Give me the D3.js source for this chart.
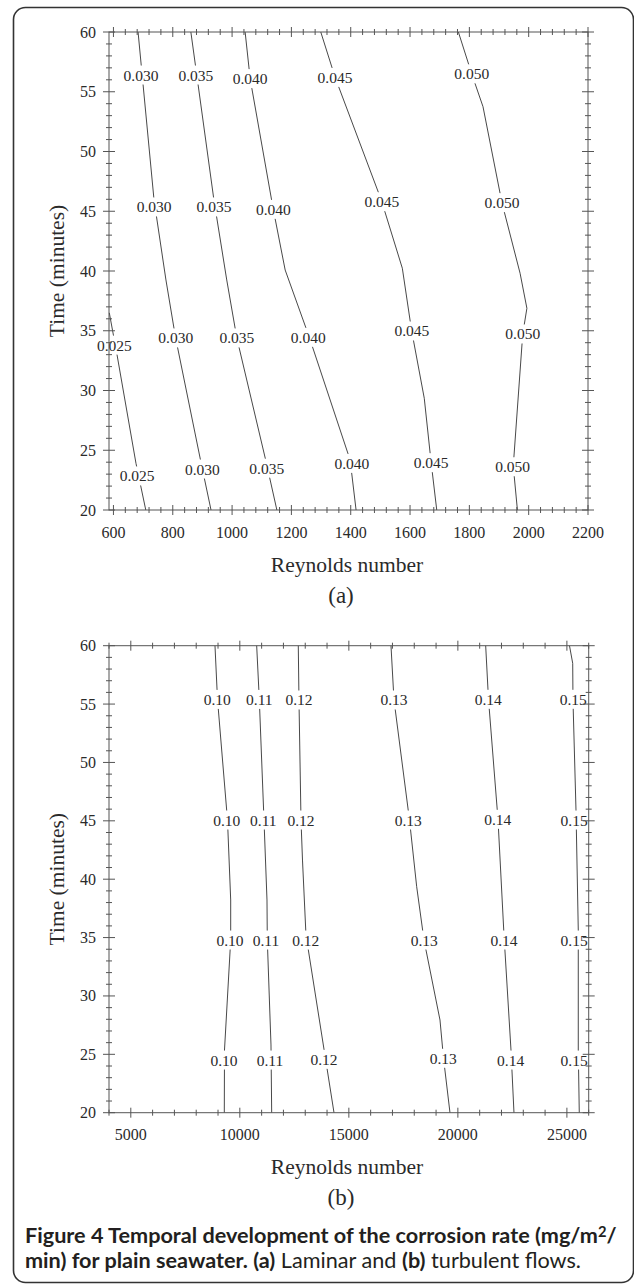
<!DOCTYPE html>
<html><head><meta charset="utf-8">
<script src="https://cdn.jsdelivr.net/npm/d3@7"></script>
<style>html,body{margin:0;padding:0;background:#fff;} svg{display:block;}</style>
</head><body>
<svg id="c" width="634" height="1284"></svg>
<script>
// ---------- (a) laminar ----------
const laminarXDomain = [585, 2200];
const laminarXTicks = [600, 800, 1000, 1200, 1400, 1600, 1800, 2000, 2200];
const timeDomain = [20, 60];
const timeTicks = [20, 25, 30, 35, 40, 45, 50, 55, 60];
const laminarLevels = ["0.025", "0.030", "0.035", "0.040", "0.045", "0.050"];
const laminarLines = [
  [[586, 36.5], [612, 33.0], [676, 23.9], [709, 20]],
  [[683, 60], [737, 45.9], [777, 39.25], [809, 34.48], [895, 24.0], [929, 20]],
  [[861, 60], [939, 45.9], [982, 39.25], [1016, 34.39], [1115, 24.0], [1151, 20]],
  [[1044, 60], [1061, 56.07], [1138, 45.27], [1179, 40.08], [1260, 34.48], [1398, 24.18], [1418, 20]],
  [[1299, 60], [1347, 56.23], [1503, 45.94], [1574, 40.23], [1605, 35.06], [1648, 29.35], [1671, 24.0], [1690, 20]],
  [[1763, 60], [1808, 56.49], [1846, 53.75], [1910, 45.69], [1971, 39.81], [1994, 36.88], [1980, 34.73], [1948, 23.68], [1962, 20]]
];
const laminarLabels = [
  [[603, 33.8], [680, 22.85]],
  [[693, 56.4], [737, 45.36], [810, 34.4], [900, 23.43]],
  [[878, 56.4], [939, 45.36], [1016, 34.4], [1117, 23.5]],
  [[1061, 56.1], [1139, 45.16], [1257, 34.45], [1404, 23.9]],
  [[1347, 56.2], [1505, 45.8], [1606, 34.98], [1671, 23.96]],
  [[1808, 56.5], [1910, 45.72], [1980, 34.73], [1946, 23.62]]
];

// ---------- (b) turbulent ----------
const turbulentXDomain = [4000, 26000];
const turbulentXTicks = [5000, 10000, 15000, 20000, 25000];
const turbulentLevels = ["0.10", "0.11", "0.12", "0.13", "0.14", "0.15"];
const turbulentLines = [
  [[8861, 60], [8976, 55.41], [9434, 45.07], [9581, 38.22], [9581, 34.79], [9297, 25.37], [9288, 20]],
  [[10773, 60], [10893, 55.41], [11108, 45.07], [11246, 38.22], [11260, 34.79], [11429, 25.8], [11461, 20]],
  [[12681, 60], [12713, 55.35], [12805, 45.07], [12874, 41.64], [13034, 35.22], [14319, 20]],
  [[16933, 60], [17070, 55.35], [17781, 45.07], [18111, 39.36], [18446, 34.79], [19180, 27.94], [19340, 24.69], [19638, 20]],
  [[21275, 60], [21404, 55.41], [21840, 45.13], [22115, 35.22], [22436, 25.37], [22573, 20]],
  [[25119, 60], [25267, 58.49], [25279, 55.35], [25417, 45.93], [25522, 35.65], [25522, 25.37], [25568, 20]]
];
const turbulentLabels = [
  [[8966, 55.4], [9398, 45.07], [9549, 34.79], [9274, 24.51]],
  [[10893, 55.4], [11076, 45.07], [11200, 34.79], [11383, 24.51]],
  [[12713, 55.35], [12805, 45.07], [13021, 34.79], [13860, 24.57]],
  [[17070, 55.35], [17726, 45.07], [18460, 34.79], [19331, 24.66]],
  [[21395, 55.41], [21826, 45.13], [22115, 34.79], [22422, 24.51]],
  [[25290, 55.41], [25330, 45.07], [25330, 34.79], [25330, 24.51]]
];

const xTitle = "Reynolds number";
const yTitle = "Time (minutes)";

const svg = d3.select("#c");
const SERIF = "'Liberation Serif','Times New Roman',serif";
const TXT = "#2a2a2a";

// outer frame
svg.append("rect").attr("x", 13.5).attr("y", 7.5).attr("width", 620).attr("height", 1275)
  .attr("rx", 12).attr("fill", "none").attr("stroke", "#333").attr("stroke-width", 1.6);

function panel(o) {
  const x = d3.scaleLinear().domain(o.xDomain).range([o.left, o.right]);
  const y = d3.scaleLinear().domain(timeDomain).range([o.bottom, o.top]);
  const g = svg.append("g");
  const line = d3.line().x(d => x(d[0])).y(d => y(d[1]));

  // contour lines
  g.selectAll("path.c").data(o.lines).join("path")
    .attr("d", line).attr("fill", "none").attr("stroke", "#333").attr("stroke-width", 0.9);

  // labels with gap
  o.labels.forEach((labs, i) => {
    labs.forEach(p => {
      const lg = g.append("g");
      const bg = lg.append("rect").attr("fill", "#fff");
      const t = lg.append("text").attr("x", x(p[0])).attr("y", y(p[1]))
        .attr("text-anchor", "middle").attr("dominant-baseline", "central")
        .attr("font-family", SERIF).attr("font-size", 15.5).attr("fill", TXT)
        .text(o.levels[i]);
      const bb = t.node().getBBox();
      bg.attr("x", bb.x - 1).attr("width", bb.width + 2)
        .attr("y", y(p[1]) - 9.5).attr("height", 19);
    });
  });

  // axes box
  const ax = svg.append("g").attr("stroke", "#555").attr("stroke-width", 1);
  ax.append("rect").attr("x", o.left).attr("y", o.top)
    .attr("width", o.right - o.left).attr("height", o.bottom - o.top).attr("fill", "none");

  const xMinor = d3.range(o.xMinorStart, o.xDomain[1] + 1, o.xMinorStep);
  const yMinor = d3.range(20, 61, 1);
  const tick = (x1, y1, x2, y2) => ax.append("line").attr("x1", x1).attr("y1", y1).attr("x2", x2).attr("y2", y2);
  xMinor.forEach(v => {
    const major = o.xTicks.includes(v);
    const L = major ? 5 : 3;
    tick(x(v), o.bottom - L, x(v), o.bottom + L);
    tick(x(v), o.top - L, x(v), o.top + L);
  });
  yMinor.forEach(v => {
    const major = timeTicks.includes(v);
    const L = major ? 6 : 3;
    tick(o.left - L, y(v), o.left + L, y(v));
    tick(o.right - L, y(v), o.right + L, y(v));
  });

  // tick labels
  const tl = svg.append("g").attr("font-family", SERIF).attr("font-size", 16).attr("fill", TXT);
  tl.selectAll("text.x").data(o.xTicks).join("text")
    .attr("x", d => x(d)).attr("y", o.bottom + 22).attr("text-anchor", "middle")
    .attr("dominant-baseline", "central").text(d => d);
  tl.selectAll("text.y").data(timeTicks).join("text")
    .attr("x", o.left - 13).attr("y", d => y(d)).attr("text-anchor", "end")
    .attr("dominant-baseline", "central").text(d => d);

  // titles
  svg.append("text").attr("x", 347).attr("y", o.xTitleY).attr("text-anchor", "middle")
    .attr("font-family", SERIF).attr("font-size", 21.5).attr("fill", TXT).text(xTitle);
  svg.append("text").attr("transform", `translate(63.5,${(o.top + o.bottom) / 2}) rotate(-90)`)
    .attr("text-anchor", "middle").attr("font-family", SERIF).attr("font-size", 21.5)
    .attr("fill", TXT).text(yTitle);
  svg.append("text").attr("x", 341).attr("y", o.tagY).attr("text-anchor", "middle")
    .attr("font-family", SERIF).attr("font-size", 23).attr("fill", TXT).text(o.tag);
}

panel({
  xDomain: laminarXDomain, xTicks: laminarXTicks, xMinorStart: 600, xMinorStep: 40,
  lines: laminarLines, labels: laminarLabels, levels: laminarLevels,
  left: 109, right: 588, top: 32, bottom: 510, xTitleY: 572, tag: "(a)", tagY: 603
});
panel({
  xDomain: turbulentXDomain, xTicks: turbulentXTicks, xMinorStart: 4000, xMinorStep: 1000,
  lines: turbulentLines, labels: turbulentLabels, levels: turbulentLevels,
  left: 109, right: 588.7, top: 645.7, bottom: 1112.7, xTitleY: 1174, tag: "(b)", tagY: 1205
});

// caption
const SANS = "Lato,'Open Sans','Noto Sans',sans-serif";
const cap = svg.append("g").attr("font-family", SANS).attr("fill", "#231f20");
const l1 = cap.append("text").attr("x", 25).attr("y", 1243).attr("font-size", 16).attr("font-weight", "bold");
l1.append("tspan").text("Figure 4 Temporal development of the corrosion rate (mg/m");
l1.append("tspan").attr("dy", -6).attr("font-size", 11).text("2");
l1.append("tspan").attr("dy", 6).text("/");
const w1 = l1.node().getComputedTextLength();
const fs = 16 * 592 / w1;
l1.attr("font-size", fs);
l1.select("tspan:nth-child(2)").attr("font-size", fs * 0.68);
const l2 = cap.append("text").attr("x", 25).attr("y", 1268).attr("font-size", fs);
l2.append("tspan").attr("font-weight", "bold").text("min) for plain seawater. (a)");
l2.append("tspan").text(" Laminar and ");
l2.append("tspan").attr("font-weight", "bold").text("(b)");
l2.append("tspan").text(" turbulent flows.");
</script>
</body></html>
